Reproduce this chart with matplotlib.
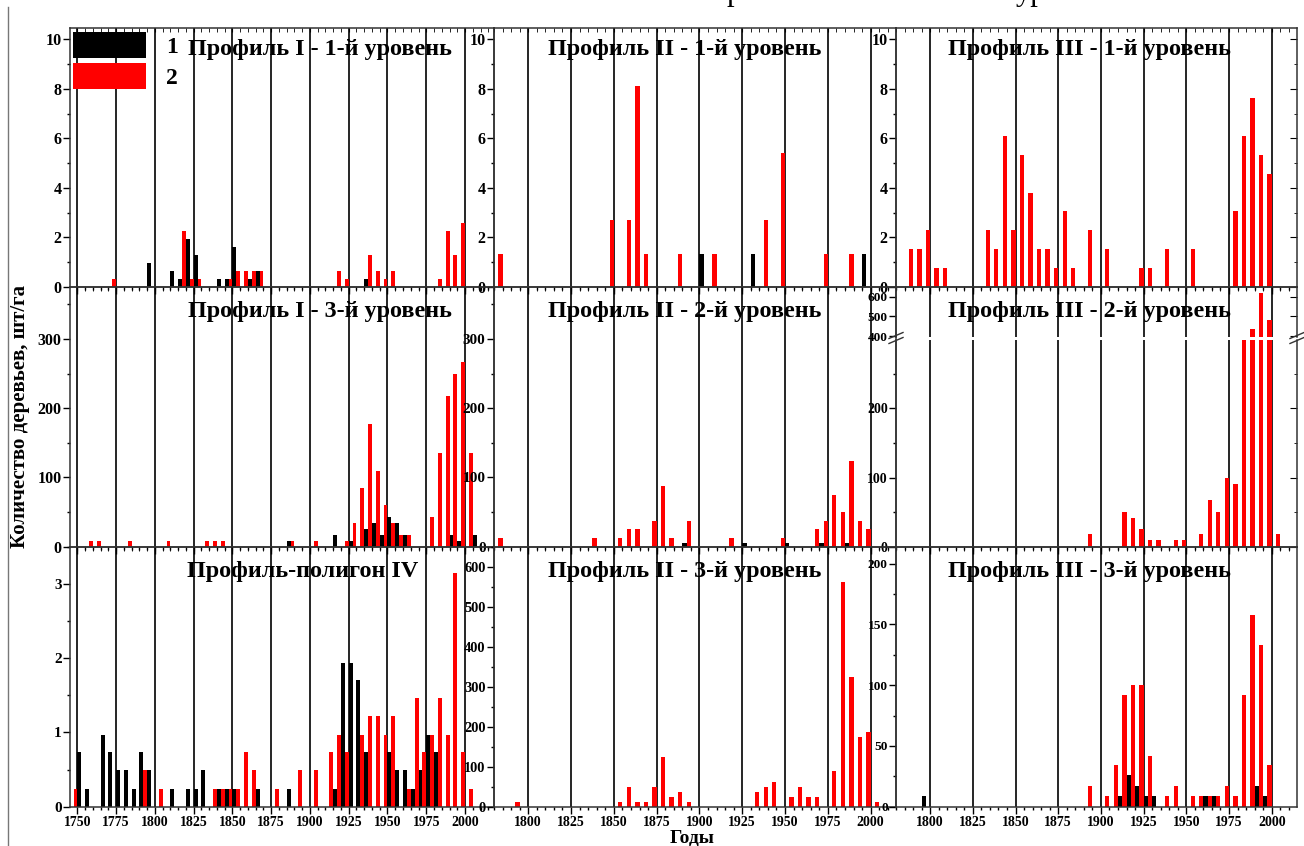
import matplotlib
matplotlib.use('Agg')
import matplotlib.pyplot as plt
from matplotlib.ticker import MultipleLocator
from matplotlib.lines import Line2D
import numpy as np

W, H = 1304, 846

# Профиль I - 1-й уровень
p1_l1_red_years = [1775, 1820, 1825, 1830, 1850, 1855, 1860, 1865, 1870, 1920, 1925,
                   1940, 1945, 1950, 1955, 1985, 1990, 1995, 2000]
p1_l1_red_vals = [0.33, 2.27, 0.33, 0.33, 0.33, 0.65, 0.65, 0.65, 0.65, 0.65, 0.33,
                  1.3, 0.65, 0.33, 0.65, 0.33, 2.27, 1.3, 2.6]
p1_l1_black_years = [1795, 1810, 1815, 1820, 1825, 1840, 1845, 1850, 1860, 1865, 1935]
p1_l1_black_vals = [0.97, 0.65, 0.33, 1.94, 1.3, 0.33, 0.33, 1.62, 0.33, 0.65, 0.33]

# Профиль II - 1-й уровень
p2_l1_red_years = [1785, 1850, 1860, 1865, 1870, 1890, 1910, 1940, 1950, 1975, 1990]
p2_l1_red_vals = [1.35, 2.7, 2.7, 8.1, 1.35, 1.35, 1.35, 2.7, 5.4, 1.35, 1.35]
p2_l1_black_years = [1900, 1930, 1995]
p2_l1_black_vals = [1.35, 1.35, 1.35]

# Профиль III - 1-й уровень
p3_l1_red_years = [1790, 1795, 1800, 1805, 1810, 1835, 1840, 1845, 1850, 1855, 1860,
                   1865, 1870, 1875, 1880, 1885, 1895, 1905, 1925, 1930, 1940, 1955,
                   1980, 1985, 1990, 1995, 2000]
p3_l1_red_vals = [1.52, 1.52, 2.29, 0.76, 0.76, 2.29, 1.52, 6.1, 2.29, 5.33, 3.81,
                  1.52, 1.52, 0.76, 3.05, 0.76, 2.29, 1.52, 0.76, 0.76, 1.52, 1.52,
                  3.05, 6.1, 7.62, 5.33, 4.57]

# Профиль I - 3-й уровень
p1_l3_red_years = [1760, 1765, 1785, 1810, 1835, 1840, 1845, 1890, 1905, 1925, 1930,
                   1935, 1940, 1945, 1950, 1955, 1960, 1965, 1980, 1985, 1990, 1995,
                   2000, 2005]
p1_l3_red_vals = [8.7, 8.7, 8.7, 8.7, 8.7, 8.7, 8.7, 8.7, 8.7, 8.7, 34.6,
                  85, 177, 110, 60, 34.6, 17.3, 17.3, 43, 135, 218, 250,
                  267, 135]
p1_l3_black_years = [1885, 1915, 1925, 1935, 1940, 1945, 1950, 1955, 1960, 1990, 1995, 2005]
p1_l3_black_vals = [8.7, 17.3, 8.7, 26, 34.6, 17.3, 43, 34.6, 17.3, 17.3, 8.7, 17.3]

# Профиль II - 2-й уровень
p2_l2_red_years = [1785, 1840, 1855, 1860, 1865, 1875, 1880, 1885, 1895, 1920, 1950,
                   1970, 1975, 1980, 1985, 1990, 1995, 2000]
p2_l2_red_vals = [12, 12, 12, 25, 25, 37.5, 87, 12, 37.5, 12, 12,
                  25, 37.5, 74, 50, 124, 37.5, 25]
p2_l2_black_years = [1890, 1925, 1950, 1970, 1985]
p2_l2_black_vals = [5, 5, 5, 5, 5]

# Профиль III - 2-й уровень (axis with a break)
p3_l2_red_years = [1895, 1915, 1920, 1925, 1930, 1935, 1945, 1950, 1960, 1965, 1970,
                   1975, 1980, 1985, 1990, 1995, 2000, 2005]
p3_l2_red_vals = [17.8, 50.6, 42, 25.5, 9.6, 9.6, 9.6, 9.6, 17.8, 67.5, 50.6,
                  99, 91, 380, 438, 618, 483, 17.8]

# Профиль-полигон IV
p4_red_years = [1750, 1795, 1805, 1840, 1845, 1850, 1855, 1860, 1865, 1880, 1895,
                1905, 1915, 1920, 1925, 1935, 1940, 1945, 1950, 1955, 1965, 1970,
                1975, 1980, 1985, 1990, 1995, 2000, 2005]
p4_red_vals = [0.24, 0.49, 0.24, 0.24, 0.24, 0.24, 0.24, 0.73, 0.49, 0.24, 0.49,
               0.49, 0.73, 0.97, 0.73, 0.97, 1.22, 1.22, 0.97, 1.22, 0.24, 1.46,
               0.73, 0.97, 1.46, 0.97, 3.14, 0.73, 0.24]
p4_black_years = [1750, 1755, 1765, 1770, 1775, 1780, 1785, 1790, 1795, 1810, 1820,
                  1825, 1830, 1840, 1845, 1850, 1865, 1885, 1915, 1920, 1925, 1930,
                  1935, 1950, 1955, 1960, 1965, 1970, 1975, 1980]
p4_black_vals = [0.73, 0.24, 0.97, 0.73, 0.49, 0.49, 0.24, 0.73, 0.49, 0.24, 0.24,
                 0.24, 0.49, 0.24, 0.24, 0.24, 0.24, 0.24, 0.24, 1.94, 1.94, 1.7,
                 0.73, 0.73, 0.49, 0.49, 0.24, 0.49, 0.97, 0.73]

# Профиль II - 3-й уровень
p2_l3_red_years = [1795, 1855, 1860, 1865, 1870, 1875, 1880, 1885, 1890, 1895, 1935,
                   1940, 1945, 1955, 1960, 1965, 1970, 1980, 1985, 1990, 1995, 2000, 2005]
p2_l3_red_vals = [12.5, 12.5, 50, 12.5, 12.5, 50, 125, 25, 37.5, 12.5, 37.5,
                  50, 62.5, 25, 50, 25, 25, 90, 562, 325, 175, 187, 12.5]

# Профиль III - 3-й уровень
p3_l3_red_years = [1895, 1905, 1910, 1915, 1920, 1925, 1930, 1940, 1945, 1955, 1960,
                   1965, 1970, 1975, 1980, 1985, 1990, 1995, 2000]
p3_l3_red_vals = [17, 9, 34, 91.6, 100.4, 100.4, 42, 9, 17, 9, 9,
                  9, 9, 17, 9, 91.6, 158, 133.4, 34]
p3_l3_black_years = [1795, 1910, 1915, 1920, 1925, 1930, 1960, 1965, 1990, 1995]
p3_l3_black_vals = [9, 9, 26, 17, 9, 9, 9, 9, 17, 9]

titles = ['Профиль I - 1-й уровень', 'Профиль II - 1-й уровень', 'Профиль III - 1-й уровень',
          'Профиль I - 3-й уровень', 'Профиль II - 2-й уровень', 'Профиль III - 2-й уровень',
          'Профиль-полигон IV', 'Профиль II - 3-й уровень', 'Профиль III - 3-й уровень']

plt.rcParams['font.family'] = ['Liberation Serif', 'DejaVu Serif']
plt.rcParams['font.weight'] = 'bold'

fig = plt.figure(figsize=(W / 100, H / 100), dpi=100)

BW = 2.5


def box(x0, y0, x1, y1):
    return [x0 / W, 1 - y1 / H, (x1 - x0) / W, (y1 - y0) / H]


def panel(rect, xlim, ylim, ymajor, yminor, red_years, red_vals,
          black_years=(), black_vals=(), xlabels=False, right=False, ysize=11.5,
          topticks=True):
    ax = fig.add_axes(rect)
    ax.set_facecolor('none')
    start = 1750 if xlim[0] < 1750 else 1800
    majors = list(range(start, 2001, 25))
    for yr in majors:
        ax.axvline(yr, color='black', lw=1.2, zorder=1)
    rb = ax.bar(np.array(red_years) - BW / 2, red_vals, width=BW, color='#ff0000', zorder=2)
    bb = ax.bar(np.array(black_years, dtype=float) + BW / 2, black_vals, width=BW,
                color='black', zorder=2)
    ax.set_xlim(*xlim)
    ax.set_ylim(*ylim)
    ax.set_xticks(majors)
    ax.xaxis.set_minor_locator(MultipleLocator(5))
    ax.yaxis.set_major_locator(MultipleLocator(ymajor))
    if yminor:
        ax.yaxis.set_minor_locator(MultipleLocator(yminor))
    ax.tick_params(which='major', length=5, width=1, direction='out')
    ax.tick_params(which='minor', length=2.5, width=1, direction='out')
    ax.tick_params(axis='y', labelsize=ysize, pad=1)
    ax.tick_params(axis='x', labelsize=10, pad=1.5, labelbottom=xlabels)
    if topticks:
        top = ax.secondary_xaxis('top')
        top.set_xticks(majors)
        top.xaxis.set_minor_locator(MultipleLocator(5))
        top.tick_params(which='both', direction='in', labeltop=False, length=3)
        top.spines['top'].set_visible(False)
    if right:
        sec = ax.secondary_yaxis('right')
        sec.yaxis.set_major_locator(MultipleLocator(ymajor))
        if yminor:
            sec.yaxis.set_minor_locator(MultipleLocator(yminor))
        sec.tick_params(which='major', direction='in', labelright=False, length=5)
        sec.tick_params(which='minor', direction='in', labelright=False, length=2.5)
        sec.spines['right'].set_visible(False)
    for s in ax.spines.values():
        s.set_color('#333333')
        s.set_linewidth(1.1)
    return ax, rb, bb


L = (70, 494, (1745.2, 2018.7))
M = (494, 896, (1780, 2014.8))
R = (896, 1297, (1780, 2014.8))
T = (28, 287)
C = (287, 546.7)
B = (546.7, 806.7)

# top row
ax, rb, bb = panel(box(L[0], T[0], L[1], T[1]), L[2], (0, 10.45), 2, 1,
                   p1_l1_red_years, p1_l1_red_vals, p1_l1_black_years, p1_l1_black_vals)
ax.legend([bb, rb], ['1', '2'], loc='upper left', bbox_to_anchor=(0.0064, 0.985),
          frameon=False, borderpad=0, borderaxespad=0, handlelength=3.1,
          handleheight=1.3, handletextpad=0.85, labelspacing=0.22,
          prop={'family': 'Liberation Serif', 'weight': 'bold', 'size': 17})
panel(box(M[0], T[0], M[1], T[1]), M[2], (0, 10.45), 2, 1,
      p2_l1_red_years, p2_l1_red_vals, p2_l1_black_years, p2_l1_black_vals)
panel(box(R[0], T[0], R[1], T[1]), R[2], (0, 10.45), 2, 1,
      p3_l1_red_years, p3_l1_red_vals, right=True)

# middle row
panel(box(L[0], C[0], L[1], C[1]), L[2], (0, 375), 100, 50,
      p1_l3_red_years, p1_l3_red_vals, p1_l3_black_years, p1_l3_black_vals)
panel(box(M[0], C[0], M[1], C[1]), M[2], (0, 375), 100, 50,
      p2_l2_red_years, p2_l2_red_vals, p2_l2_black_years, p2_l2_black_vals, ysize=11)
low, _, _ = panel(box(R[0], 340, R[1], C[1]), R[2], (0, 298.7), 100, 50,
                  p3_l2_red_years, p3_l2_red_vals, right=True, ysize=10, topticks=False)
upp, _, _ = panel(box(R[0], C[0], R[1], 337), R[2], (395, 650), 100, None,
                  p3_l2_red_years, p3_l2_red_vals, right=True, ysize=9.6)
low.spines['top'].set_visible(False)
upp.spines['bottom'].set_visible(False)
upp.tick_params(axis='x', which='both', bottom=False)
# break marks
for xp in (R[0], R[1]):
    for dy in (-2.5, 2.5):
        fig.add_artist(Line2D([(xp - 7) / W, (xp + 7) / W],
                              [1 - (338 + dy + 3) / H, 1 - (338 + dy - 3) / H],
                              color='#333333', lw=1))

# bottom row
panel(box(L[0], B[0], L[1], B[1]), L[2], (0, 3.5), 1, 0.5,
      p4_red_years, p4_red_vals, p4_black_years, p4_black_vals, xlabels=True, ysize=11)
panel(box(M[0], B[0], M[1], B[1]), M[2], (0, 650), 100, 50,
      p2_l3_red_years, p2_l3_red_vals, xlabels=True, ysize=10.4)
panel(box(R[0], B[0], R[1], B[1]), R[2], (0, 214), 50, 25,
      p3_l3_red_years, p3_l3_red_vals, p3_l3_black_years, p3_l3_black_vals,
      xlabels=True, ysize=9.6)

# panel titles
title_pos = [(188, 49), (548, 50), (948, 50),
             (188, 312), (548, 312), (948, 312),
             (187, 572), (548, 572), (948, 572)]
for t, (xp, yp) in zip(titles, title_pos):
    fig.text(xp / W, 1 - yp / H, t, ha='left', va='center', fontsize=17.4,
             fontweight='bold', family='Liberation Serif')

fig.text(20 / W, 1 - 417 / H, 'Количество деревьев, шт/га', rotation=90,
         ha='center', va='center', fontsize=15, fontweight='bold')
fig.text(692 / W, 1 - 837.5 / H, 'Годы', ha='center', va='center',
         fontsize=14, fontweight='bold')

# text line cut off at the top of the picture
fig.text(727 / W, 1 + 0.5 / H, 'р', ha='left', va='baseline', fontsize=22,
         fontweight='normal')
fig.text(1016 / W, 1 + 0.5 / H, 'ур', ha='left', va='baseline', fontsize=22,
         fontweight='normal')

fig.add_artist(Line2D([7.5 / W, 7.5 / W], [0, 1 - 7 / H], color='#777777', lw=1))

fig.savefig('out.png', dpi=100)
